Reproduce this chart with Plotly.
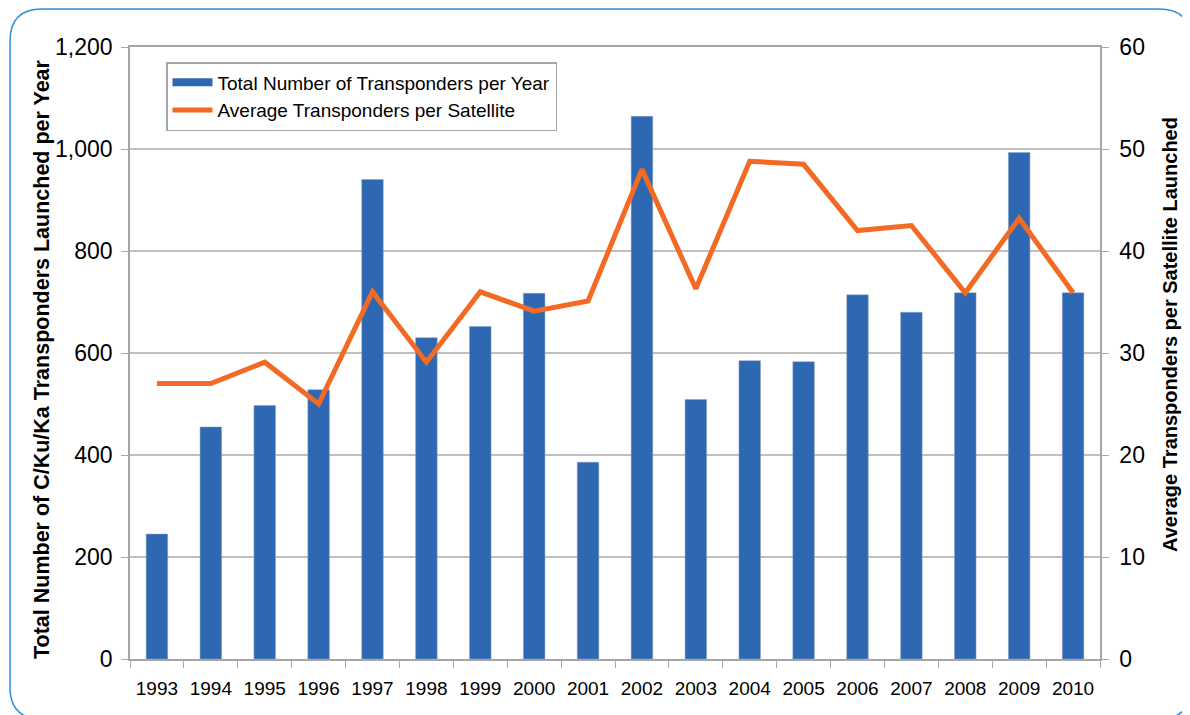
import plotly.graph_objects as go

years = [str(y) for y in range(1993, 2011)]
total_transponders = [245, 455, 497, 528, 940, 630, 652, 717, 386, 1064, 509, 585, 583, 714, 680, 718, 993, 718]
avg_per_satellite = [27.0, 27.0, 29.1, 25.0, 36.0, 29.1, 36.0, 34.1, 35.1, 48.0, 36.3, 48.8, 48.5, 42.0, 42.5, 35.9, 43.2, 35.9]
left_ticks = [0, 200, 400, 600, 800, 1000, 1200]
right_ticks = [0, 10, 20, 30, 40, 50, 60]
left_title = "Total Number of C/Ku/Ka Transponders Launched per Year"
right_title = "Average Transponders per Satellite Launched"

# page body has an 8px margin; work in figure coords = screen coords - 8
OFF = 8
W, H = 1190 - OFF, 715 - OFF
L, T = 130 - OFF, 47 - OFF
PR, PB = 1100 - OFF, 659 - OFF
R, B = W - PR, H - PB
PW, PH = PR - L, PB - T

def px(x):
    return (x - OFF - L) / PW

def py(y):
    return (PB - (y - OFF)) / PH

BLUE = "#2F68B2"
ORANGE = "#F26A24"
GRID = "#BFBFBF"
AXIS = "#A6A6A6"

# rounded frame (screen coords) -> paper coords
x0, y0, x1, y1, rad = 10, 9, 1191, 719, 32
frame = (
    f"M {px(x0+rad)},{py(y0)} L {px(x1-rad)},{py(y0)} "
    f"Q {px(x1)},{py(y0)} {px(x1)},{py(y0+rad)} L {px(x1)},{py(y1-rad)} "
    f"Q {px(x1)},{py(y1)} {px(x1-rad)},{py(y1)} L {px(x0+rad)},{py(y1)} "
    f"Q {px(x0)},{py(y1)} {px(x0)},{py(y1-rad)} L {px(x0)},{py(y0+rad)} "
    f"Q {px(x0)},{py(y0)} {px(x0+rad)},{py(y0)} Z"
)

fig = go.Figure()
fig.add_trace(go.Bar(
    x=years, y=total_transponders, name="Total Number of Transponders per Year",
    marker=dict(color=BLUE, line=dict(color="#8FA3BF", width=0.5)),
    showlegend=False,
))
# legend swatch for the bars (wide rectangle like the original)
fig.add_trace(go.Scatter(
    x=[None], y=[None], mode="lines", name="Total Number of Transponders per Year",
    line=dict(color=BLUE, width=8), showlegend=True, hoverinfo="skip",
))
fig.add_trace(go.Scatter(
    x=years, y=avg_per_satellite, name="Average Transponders per Satellite",
    yaxis="y2", mode="lines", line=dict(color=ORANGE, width=5),
))

FONT = "Liberation Sans, Arial, sans-serif"
fig.update_layout(
    width=W, height=H,
    margin=dict(l=L, r=R, t=T, b=B),
    paper_bgcolor="white", plot_bgcolor="white",
    font=dict(family=FONT, color="#000"),
    bargap=0.6,
    showlegend=True,
    legend=dict(
        x=px(166), y=py(62), xanchor="left", yanchor="top",
        bgcolor="white", bordercolor=AXIS, borderwidth=1.5,
        font=dict(size=19, family=FONT),
        traceorder="normal", itemwidth=40,
    ),
    xaxis=dict(
        type="category", tickfont=dict(size=19),
        showline=True, linecolor=AXIS, linewidth=1.5, mirror=True,
        ticks="outside", tickson="boundaries", ticklen=7, tickcolor=AXIS,
        ticklabelstandoff=11,
        showgrid=False,
    ),
    yaxis=dict(
        range=[0, 1200], tickvals=left_ticks, tickformat=",",
        tickfont=dict(size=23),
        showline=True, linecolor=AXIS, linewidth=1.5,
        ticks="outside", ticklen=7, tickcolor=AXIS, ticklabelstandoff=4,
        showgrid=True, gridcolor=GRID, gridwidth=1.5,
        zeroline=False,
    ),
    yaxis2=dict(
        overlaying="y", side="right", range=[0, 60], tickvals=right_ticks,
        tickfont=dict(size=23),
        showline=True, linecolor=AXIS, linewidth=1.5,
        ticks="outside", ticklen=7, tickcolor=AXIS, ticklabelstandoff=6,
        showgrid=False, zeroline=False,
    ),
    annotations=[
        dict(text=f"<b>{left_title}</b>", xref="paper", yref="paper",
             x=px(42), y=py(359), xanchor="center", yanchor="middle",
             textangle=-90, showarrow=False, font=dict(size=21.5, family=FONT)),
        dict(text=f"<b>{right_title}</b>", xref="paper", yref="paper",
             x=px(1170), y=py(335), xanchor="center", yanchor="middle",
             textangle=-90, showarrow=False, font=dict(size=20, family=FONT)),
    ],
    shapes=[dict(type="path", path=frame, xref="paper", yref="paper",
                 line=dict(color="#2B8FD8", width=1.5), layer="below")],
)

fig.write_html("out.html")
